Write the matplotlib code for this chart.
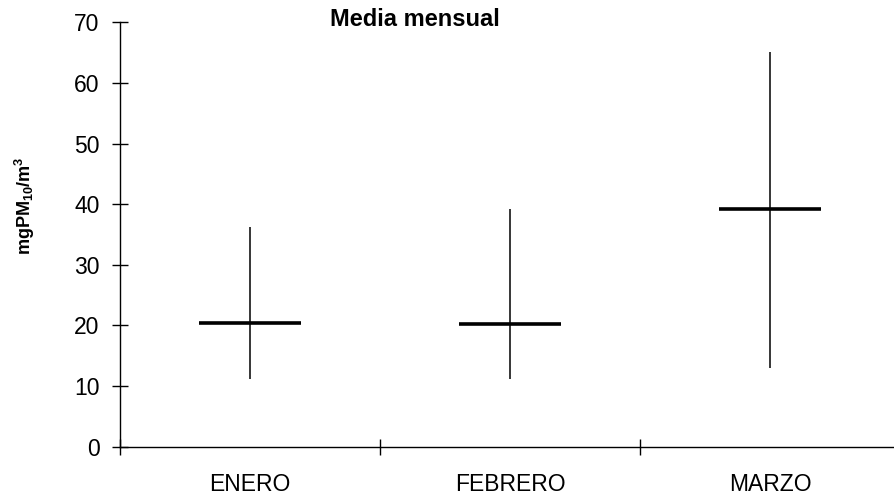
import matplotlib
matplotlib.use("Agg")
import matplotlib.pyplot as plt
import numpy as np

months = ["ENERO", "FEBRERO", "MARZO"]
means = [20.4, 20.2, 39.2]
lows = [11.1, 11.1, 12.9]
highs = [36.3, 39.2, 65.1]
yticks = [0, 10, 20, 30, 40, 50, 60, 70]

plt.rcParams['font.family'] = ['Liberation Sans', 'DejaVu Sans']
plt.rcParams['mathtext.fontset'] = 'custom'
plt.rcParams['mathtext.rm'] = 'Liberation Sans'
plt.rcParams['mathtext.bf'] = 'Liberation Sans:bold'
plt.rcParams['mathtext.it'] = 'Liberation Sans:italic'

W, H = 894, 497
fig = plt.figure(figsize=(W / 100, H / 100), dpi=100)
left, right = 120 / W, 1.0
bottom = (H - 446.7) / H
top = (H - 22.3) / H
ax = fig.add_axes([left, bottom, right - left, top - bottom])

x = np.arange(len(months)) + 0.5
hw = 0.196
ax.vlines(x, lows, highs, colors='black', linewidth=1.1)
ax.hlines(means, x - hw, x + hw, colors='black', linewidth=2.6)

ax.set_yticks(yticks)
ax.set_xticks(np.arange(0, 3))
ax.set_xticklabels([])
ax.set_xticks(x, minor=True)
ax.set_xticklabels(months, minor=True)
ax.set_ylim(0, 70)
ax.set_xlim(0, 774 / 260)

for s in ['top', 'right']:
    ax.spines[s].set_visible(False)
for s in ['left', 'bottom']:
    ax.spines[s].set_linewidth(1.0)

ax.tick_params(axis='y', direction='inout', length=11.5, width=1.0, pad=9.0, labelsize=16.5)
ax.tick_params(axis='x', which='major', direction='inout', length=11, width=1.0)
ax.tick_params(axis='x', which='minor', length=0, pad=19, labelsize=16.5)

fig.text(25 / W, 1 - 206 / H, r'mg$\mathbf{PM_{10}/m^3}$', rotation=90,
         ha='center', va='center', fontsize=13, fontweight='bold')
fig.text(415 / W, 1 - 20 / H, 'Media mensual', ha='center', va='center',
         fontsize=17, fontweight='bold')

fig.savefig('out.png', dpi=100)
